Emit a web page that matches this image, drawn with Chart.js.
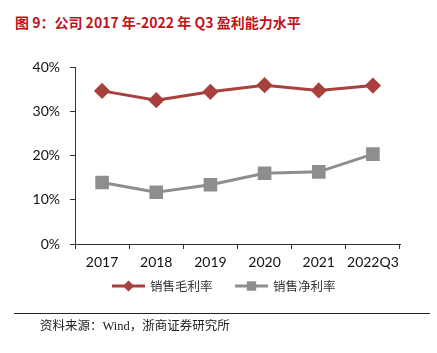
<!DOCTYPE html>
<html lang="zh">
<head>
  <meta charset="UTF-8" />
  <title>盈利能力水平</title>
  <script src="https://cdn.jsdelivr.net/npm/chart.js"></script>
  <style>
    body {
      margin: 0;
      background: #fff;
      width: 437px;
      height: 353px;
      position: relative;
      overflow: hidden;
    }

    .title {
      position: absolute;
      left: 15px;
      top: 12px;
      font-family: 'Noto Sans CJK SC', sans-serif;
      font-weight: bold;
      font-size: 14px;
      color: #C0141C;
      white-space: nowrap;
    }

    .chart-box {
      position: absolute;
      left: 0;
      top: 0;
      width: 437px;
      height: 353px;
    }

    .rule {
      position: absolute;
      left: 14px;
      width: 416px;
      top: 313px;
      border-top: 1px solid #222;
    }

    .source {
      position: absolute;
      left: 40px;
      top: 315px;
      font-family: 'Liberation Serif', 'Noto Sans CJK SC', serif;
      font-size: 12.5px;
      color: #222;
      white-space: nowrap;
    }
  </style>
</head>
<body>

  <div class="title">图 9：公司 2017 年-2022 年 Q3 盈利能力水平</div>
  <div class="chart-box"><canvas id="profitChart"></canvas></div>
  <div class="rule"></div>
  <div class="source">资料来源：Wind，浙商证券研究所</div>

  <script>
    const years = ['2017', '2018', '2019', '2020', '2021', '2022Q3'];
    const grossMargin = [34.6, 32.5, 34.4, 35.9, 34.7, 35.8];
    const netMargin = [13.9, 11.7, 13.4, 16.0, 16.3, 20.3];
    const yTicks = [0, 10, 20, 30, 40];

    const axisColor = '#333';
    const tickFont = { family: 'Lato', size: 14 };

    // legend drawn as line + marker, like the office chart
    const lineLegend = {
      id: 'lineLegend',
      afterDraw(chart) {
        const ctx = chart.ctx;
        const slots = [112, 235];
        const y = 286;
        chart.data.datasets.forEach((ds, i) => {
          const x0 = slots[i];
          ctx.save();
          ctx.strokeStyle = ds.borderColor;
          ctx.lineWidth = 3;
          ctx.beginPath();
          ctx.moveTo(x0, y);
          ctx.lineTo(x0 + 33, y);
          ctx.stroke();
          ctx.fillStyle = ds.pointBackgroundColor;
          ctx.strokeStyle = ds.pointBackgroundColor;
          Chart.helpers.drawPoint(ctx, {
            pointStyle: ds.pointStyle,
            radius: ds.pointStyle === 'rect' ? 4.5 : 3.5,
            borderWidth: 1,
            rotation: 0
          }, x0 + 16.5, y);
          ctx.fillStyle = '#333';
          ctx.font = '12.5px "Noto Sans CJK SC"';
          ctx.textBaseline = 'middle';
          ctx.fillText(ds.label, x0 + 38, y);
          ctx.restore();
        });
      }
    };

    new Chart(document.getElementById('profitChart'), {
      type: 'line',
      data: {
        labels: years,
        datasets: [{
          label: '销售毛利率',
          data: grossMargin,
          borderColor: '#A8403D',
          backgroundColor: '#A8403D',
          pointBackgroundColor: '#A8403D',
          pointBorderColor: '#A8403D',
          borderWidth: 3,
          pointStyle: 'rectRot',
          pointRadius: 6,
          tension: 0
        }, {
          label: '销售净利率',
          data: netMargin,
          borderColor: '#8E8E8E',
          backgroundColor: '#8E8E8E',
          pointBackgroundColor: '#8E8E8E',
          pointBorderColor: '#8E8E8E',
          borderWidth: 3,
          pointStyle: 'rect',
          pointRadius: 7.5,
          tension: 0
        }]
      },
      options: {
        responsive: true,
        maintainAspectRatio: false,
        animation: false,
        layout: { padding: { left: 0, right: 37, top: 67, bottom: 79 } },
        plugins: {
          legend: { display: false },
          tooltip: { enabled: false }
        },
        scales: {
          x: {
            offset: true,
            afterFit: s => { s.height = 30; },
            grid: {
              offset: true,
              drawOnChartArea: false,
              tickLength: 5,
              tickColor: axisColor
            },
            border: { color: axisColor, width: 1 },
            ticks: {
              color: '#111',
              font: tickFont,
              padding: 5,
              maxRotation: 0,
              autoSkip: false
            }
          },
          y: {
            min: 0,
            max: 40,
            afterFit: s => { s.width = 75; },
            afterBuildTicks: s => { s.ticks = yTicks.map(v => ({ value: v })); },
            grid: {
              drawOnChartArea: false,
              tickLength: 5,
              tickColor: axisColor
            },
            border: { color: axisColor, width: 1 },
            ticks: {
              color: '#111',
              font: tickFont,
              padding: 10,
              callback: v => v + '%'
            }
          }
        }
      },
      plugins: [lineLegend]
    });
  </script>
</body>
</html>
